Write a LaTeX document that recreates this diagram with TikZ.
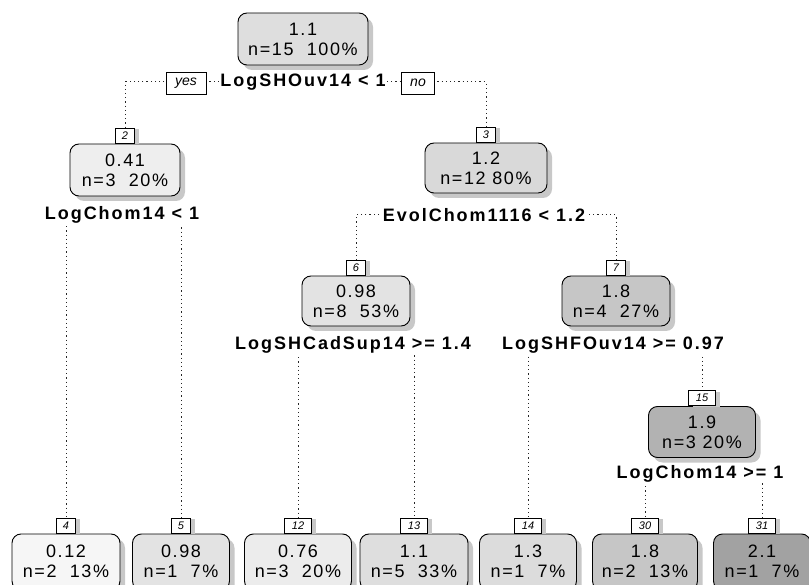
\documentclass[tikz,border=0pt]{standalone}
\usepackage{fontspec}
\setmainfont{Liberation Sans}
\newfontfamily\nodefont[LetterSpace=9]{Liberation Sans}
\newfontfamily\splitfont[LetterSpace=11]{Liberation Sans}
\usetikzlibrary{shadows}
\pgfdeclarelayer{edges}
\pgfsetlayers{edges,main}
\definecolor{shadowgray}{RGB}{200,200,200}
\definecolor{cA}{RGB}{246,246,246}
\definecolor{cB}{RGB}{238,238,238}
\definecolor{cC}{RGB}{236,236,236}
\definecolor{cD}{RGB}{227,227,227}
\definecolor{cE}{RGB}{222,222,222}
\definecolor{cF}{RGB}{217,217,217}
\definecolor{cG}{RGB}{220,220,220}
\definecolor{cH}{RGB}{198,198,198}
\definecolor{cI}{RGB}{178,178,178}
\definecolor{cJ}{RGB}{162,162,162}
\tikzset{
  tnode/.style={draw=black, line width=0.9pt, rounded corners=9pt, inner sep=0pt,
    minimum height=50pt, align=center, font=\nodefont\fontsize{18}{20}\selectfont,
    drop shadow={shadow xshift=5pt, shadow yshift=-5pt, fill=shadowgray, opacity=1}},
  leaf/.style={tnode, minimum height=56pt, text depth=2pt},
  numbox/.style={draw=black, line width=0.8pt, fill=white, inner sep=0pt,
    minimum height=15pt, minimum width=19pt, anchor=south,
    font=\itshape\fontsize{11}{11}\selectfont,
    drop shadow={shadow xshift=4pt, shadow yshift=-1pt, fill=shadowgray, opacity=1}},
  numwide/.style={numbox, minimum width=27pt},
  split/.style={fill=white, inner sep=1pt, font=\splitfont\bfseries\fontsize{18}{18}\selectfont},
  yesno/.style={draw=black, line width=0.8pt, fill=white, inner sep=0pt,
    minimum height=22pt, font=\itshape\fontsize{14}{14}\selectfont},
  edge/.style={draw=black!85, line width=1pt, dash pattern=on 1.2pt off 3pt},
}
\begin{document}
\begin{tikzpicture}[x=1pt,y=-1pt]
\useasboundingbox (0,0) rectangle (809,585);
% internal nodes
\node[tnode, fill=cE, minimum width=130pt, minimum height=52pt] (n1) at (303,39) {1.1\\n=15\ \ 100\%};
\node[tnode, fill=cB, minimum width=110pt, minimum height=52pt] (n2) at (125,170) {0.41\\n=3\ \ 20\%};
\node[tnode, fill=cF, minimum width=122pt] (n3) at (486,168) {1.2\\n=12 80\%};
\node[tnode, fill=cD, minimum width=108pt] (n6) at (356,301) {0.98\\n=8\ \ 53\%};
\node[tnode, fill=cH, minimum width=108pt] (n7) at (616,301) {1.8\\n=4\ \ 27\%};
\node[tnode, fill=cI, minimum width=107pt, minimum height=51pt] (n15) at (702,432) {1.9\\n=3 20\%};
% leaves
\node[leaf, fill=cA, minimum width=108pt] (n4) at (66,562) {0.12\\n=2\ \ 13\%};
\node[leaf, fill=cD, minimum width=97pt] (n5) at (181,562) {0.98\\n=1\ \ 7\%};
\node[leaf, fill=cC, minimum width=107pt] (n12) at (298,562) {0.76\\n=3\ \ 20\%};
\node[leaf, fill=cE, minimum width=108pt] (n13) at (414,562) {1.1\\n=5\ \ 33\%};
\node[leaf, fill=cG, minimum width=97pt] (n14) at (528,562) {1.3\\n=1\ \ 7\%};
\node[leaf, fill=cH, minimum width=105pt] (n30) at (645,562) {1.8\\n=2\ \ 13\%};
\node[leaf, fill=cJ, minimum width=97pt] (n31) at (762,562) {2.1\\n=1\ \ 7\%};
% node number boxes
\node[numbox] (b2) at (n2.north) {2};
\node[numbox] (b3) at (n3.north) {3};
\node[numbox] (b6) at (n6.north) {6};
\node[numbox] (b7) at (n7.north) {7};
\node[numwide] (b15) at (n15.north) {15};
\node[numbox] (b4) at (n4.north) {4};
\node[numbox] (b5) at (n5.north) {5};
\node[numwide] (b12) at (n12.north) {12};
\node[numwide] (b13) at (n13.north) {13};
\node[numwide] (b14) at (n14.north) {14};
\node[numwide] (b30) at (n30.north) {30};
\node[numwide] (b31) at (n31.north) {31};
% split labels
\node[split] (s1) at (303,82) {LogSHOuv14 < 1};
\node[yesno, minimum width=40pt] (yes) at (186,83) {yes};
\node[yesno, minimum width=33pt] (no) at (418,83) {no};
\node[split] (s2) at (122,215) {LogChom14 < 1};
\node[split] (s3) at (484,215) {EvolChom1116 < 1.2};
\node[split] (s6) at (353,345) {LogSHCadSup14 >= 1.4};
\node[split] (s7) at (613,345) {LogSHFOuv14 >= 0.97};
\node[split] (s15) at (700,474) {LogChom14 >= 1};
% connectors
\begin{pgfonlayer}{edges}
\draw[edge] (s1.center) -| (b2.north);
\draw[edge] (s1.center) -| (b3.north);
\draw[edge] (s2.center) -| (b4.north);
\draw[edge] (s2.center) -| (b5.north);
\draw[edge] (s3.center) -| (b6.north);
\draw[edge] (s3.center) -| (b7.north);
\draw[edge] (s6.center) -| (b12.north);
\draw[edge] (s6.center) -| (b13.north);
\draw[edge] (s7.center) -| (b14.north);
\draw[edge] (s7.center) -| (b15.north);
\draw[edge] (s15.center) -| (b30.north);
\draw[edge] (s15.center) -| (b31.north);
\end{pgfonlayer}
\end{tikzpicture}
\end{document}
